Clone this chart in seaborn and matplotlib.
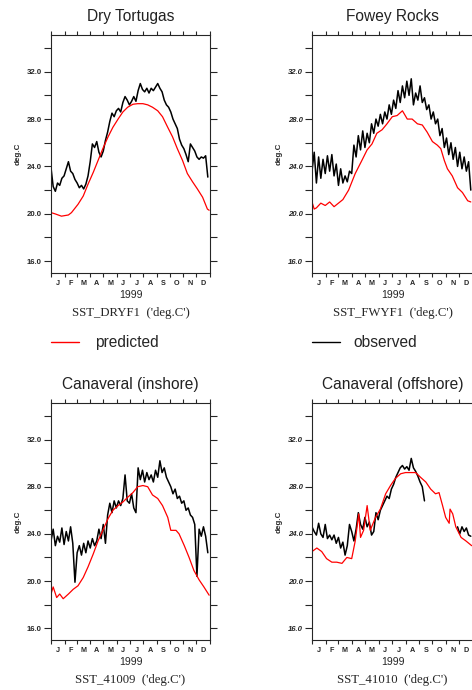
import numpy as np
import pandas as pd
import matplotlib
matplotlib.use("Agg")
import matplotlib.pyplot as plt
from matplotlib.lines import Line2D
import seaborn as sns

# ── Axis labels ────────────────────────────────────────────
MONTHS       = ["J", "F", "M", "A", "M", "J", "J", "A", "S", "O", "N", "D"]
MONTH_STARTS = [0, 31, 59, 90, 120, 151, 181, 212, 243, 273, 304, 334, 365]
Y_MAJOR      = [16, 20, 24, 28, 32]
Y_MINOR      = [18, 22, 26, 30, 34]

# ── Observed SST (day of year, 5-day spacing) ─────────────
OBS_DAYS = list(range(0, 361, 5))

dry_obs = [23.9, 22.3, 21.9, 22.6, 22.4, 23.0, 23.2, 23.8, 24.4, 23.6,
           23.4, 22.9, 22.6, 22.2, 22.4, 22.1, 22.5, 23.2, 24.4, 25.9,
           25.6, 26.1, 25.2, 24.8, 25.3, 26.2, 26.9, 27.8, 28.5, 28.2,
           28.7, 28.9, 28.6, 29.4, 29.9, 29.6, 29.2, 29.5, 29.9, 29.5,
           30.4, 31.0, 30.5, 30.3, 30.6, 30.2, 30.6, 30.4, 30.7, 31.0,
           30.6, 30.3, 29.6, 29.2, 29.0, 28.6, 28.0, 27.6, 27.2, 26.3,
           25.8, 25.5, 25.0, 24.4, 25.9, 25.6, 25.3, 24.8, 24.6, 24.8,
           24.7, 24.9, 23.1]

fwy_obs = [23.6, 25.2, 22.6, 24.8, 23.0, 24.6, 23.4, 24.9, 23.6, 25.0,
           23.2, 24.2, 22.4, 23.8, 22.6, 23.2, 22.7, 23.6, 23.4, 25.8,
           24.8, 26.6, 25.4, 27.0, 25.6, 26.8, 26.0, 27.6, 26.8, 28.0,
           27.4, 28.4, 27.6, 28.6, 28.0, 29.2, 28.4, 29.6, 28.9, 30.4,
           29.4, 30.8, 29.8, 31.2, 30.0, 31.4, 29.2, 30.2, 29.6, 30.8,
           29.4, 29.8, 28.8, 29.2, 28.0, 28.6, 27.6, 28.0, 26.6, 27.2,
           25.6, 26.4, 25.0, 26.0, 24.6, 25.6, 24.0, 25.2, 23.8, 24.8,
           23.6, 24.4, 22.0]

cin_obs = [23.4, 24.4, 23.0, 23.8, 23.3, 24.5, 23.1, 24.2, 23.4, 24.6,
           23.2, 19.9, 22.4, 23.0, 22.2, 23.2, 22.4, 23.4, 22.8, 23.6,
           23.0, 23.4, 24.4, 23.6, 24.8, 23.2, 25.6, 26.6, 25.8, 26.8,
           26.2, 26.8, 26.4, 27.0, 29.0, 26.8, 26.6, 27.4, 26.2, 25.8,
           29.6, 28.6, 29.4, 28.4, 29.2, 28.6, 29.0, 28.4, 29.4, 28.8,
           30.2, 29.2, 29.6, 28.8, 28.4, 28.0, 27.4, 27.8, 27.0, 27.2,
           26.6, 26.8, 26.0, 26.2, 25.6, 25.4, 24.8, 20.4, 24.4, 23.8,
           24.6, 23.8, 22.4]

nan = np.nan
cof_obs = [24.6, 24.2, 23.9, 24.9, 24.0, 23.7, 24.8, 23.6, 23.9, 23.5,
           23.9, 23.2, 23.7, 22.8, 23.3, 22.2, 23.0, 24.8, 24.2, 23.4,
           24.4, 25.8, 24.8, 24.4, 25.4, 24.6, 25.0, 23.9, 24.2, 25.8,
           25.2, 26.0, 26.4, 26.8, 27.2, 27.0, 27.8, 28.2, 28.8, 29.2,
           29.6, 29.8, 29.5, 29.7, 29.4, 30.4, 29.6, 29.3, 28.9, 28.4,
           28.0, 26.8, nan, nan, nan, nan, nan, nan, nan, nan,
           nan, nan, nan, nan, nan, nan, 24.6, 24.0, 24.6, 24.2,
           24.5, 23.9, 23.8]

# ── Predicted SST ──────────────────────────────────────────
dry_pred_days = [0, 9, 24, 40, 47, 62, 74, 85, 97, 108, 119, 131, 142, 154, 165, 176,
                 188, 199, 211, 222, 233, 245, 256, 268, 279, 290, 302, 313, 325, 336,
                 348, 359, 363]
dry_pred = [20.1, 20.0, 19.8, 19.9, 20.1, 20.8, 21.5, 22.5, 23.5, 24.5, 25.5, 26.5,
            27.3, 28.0, 28.6, 29.0, 29.25, 29.3, 29.3, 29.2, 29.0, 28.7, 28.2, 27.3,
            26.5, 25.5, 24.5, 23.4, 22.7, 22.1, 21.4, 20.4, 20.3]

fwy_pred_days = [0, 5, 10, 20, 30, 40, 50, 60, 70, 83, 98, 113, 125, 136, 147, 159,
                 170, 182, 193, 205, 216, 227, 239, 250, 261, 273, 284, 292, 300, 307,
                 318, 330, 341, 353, 360]
fwy_pred = [21.0, 20.4, 20.5, 20.9, 20.7, 21.0, 20.6, 20.9, 21.2, 22.0, 23.4, 24.5,
            25.4, 25.9, 26.8, 27.1, 27.6, 28.2, 28.3, 28.7, 28.0, 28.0, 27.6, 27.5,
            26.9, 26.1, 25.8, 25.5, 24.5, 23.8, 23.2, 22.2, 21.8, 21.1, 21.0]

cin_pred_days = [0, 5, 13, 20, 28, 40, 51, 62, 74, 85, 97, 108, 119, 131, 142, 154,
                 165, 176, 188, 199, 211, 222, 233, 245, 256, 268, 275, 287, 294, 306,
                 317, 328, 340, 351, 363]
cin_pred = [18.9, 19.5, 18.6, 18.9, 18.5, 18.9, 19.3, 19.6, 20.3, 21.2, 22.3, 23.4,
            24.3, 25.3, 26.0, 26.4, 26.7, 27.1, 27.5, 28.0, 28.1, 28.0, 27.3, 27.0,
            26.4, 25.4, 24.3, 24.3, 24.0, 23.0, 22.0, 20.9, 20.1, 19.5, 18.8]

cof_pred_days = [0, 11, 22, 33, 45, 56, 68, 79, 90, 98, 106, 110, 117, 125, 132, 144,
                 155, 167, 178, 189, 201, 212, 224, 235, 246, 258, 269, 280, 288, 296,
                 303, 311, 313, 319, 326, 338, 349, 362]
cof_pred = [22.5, 22.8, 22.5, 21.9, 21.6, 21.6, 21.5, 22.0, 21.9, 23.4, 25.7, 23.7,
            24.3, 26.4, 24.3, 25.4, 26.1, 27.4, 28.1, 28.7, 29.1, 29.2, 29.2, 29.2,
            28.8, 28.4, 27.8, 27.4, 27.5, 26.4, 25.4, 24.9, 26.1, 25.7, 24.6, 23.7,
            23.4, 23.0]

PANELS = [
    ("Dry Tortugas",         "SST_DRYF1  ('deg.C')", dry_obs, dry_pred_days, dry_pred),
    ("Fowey Rocks",          "SST_FWYF1  ('deg.C')", fwy_obs, fwy_pred_days, fwy_pred),
    ("Canaveral (inshore)",  "SST_41009  ('deg.C')", cin_obs, cin_pred_days, cin_pred),
    ("Canaveral (offshore)", "SST_41010  ('deg.C')", cof_obs, cof_pred_days, cof_pred),
]

# axes boxes in figure fraction (left, bottom, width, height)
BOXES = [
    (51 / 472, 1 - 273 / 690, 159 / 472, 238 / 690),
    (312 / 472, 1 - 273 / 690, 161 / 472, 238 / 690),
    (51 / 472, 1 - 640 / 690, 159 / 472, 237 / 690),
    (312 / 472, 1 - 640 / 690, 161 / 472, 237 / 690),
]

sns.set_theme(style="ticks")
plt.rcParams["font.family"] = ["Liberation Sans", "DejaVu Sans"]
plt.rcParams["axes.linewidth"] = 0.8


def to_frame(days, vals):
    df = pd.DataFrame({"day": days, "temp": vals})
    df["seg"] = df["temp"].isna().cumsum()   # break the line at data gaps
    return df.dropna()


def draw_panel(ax, title, station, obs, pred_days, pred, right):
    sns.lineplot(data=to_frame(OBS_DAYS, obs), x="day", y="temp", units="seg",
                 estimator=None, sort=False, color="black", lw=1.1, ax=ax)
    sns.lineplot(data=to_frame(pred_days, pred), x="day", y="temp", units="seg",
                 estimator=None, sort=False, color="#ff0000", lw=0.9, ax=ax)

    ax.set_xlim(0, 365)
    ax.set_ylim(15, 35.1)
    ax.set_xlabel("")
    ax.set_ylabel("")

    mids = [(a + b) / 2 for a, b in zip(MONTH_STARTS[:-1], MONTH_STARTS[1:])]
    ax.set_xticks(MONTH_STARTS)
    ax.set_xticklabels([])
    ax.set_xticks(mids, minor=True)
    ax.set_xticklabels(MONTHS, minor=True, fontsize=5.2, fontweight="bold")
    ax.tick_params(axis="x", which="major", direction="out", length=3, width=0.8,
                   top=True, bottom=True)
    ax.tick_params(axis="x", which="minor", length=0, pad=5.0, top=False)

    ax.set_yticks(Y_MAJOR)
    ax.set_yticklabels([f"{v:.1f}" for v in Y_MAJOR], fontsize=5.6, fontweight="bold",
                       fontstyle="italic" if right else "normal")
    ax.set_yticks(Y_MINOR, minor=True)
    ax.tick_params(axis="y", which="both", direction="out", length=5.2, width=0.8,
                   left=True, right=True, pad=1.5)

    ax.text(0.5, 1.076, title, transform=ax.transAxes, ha="center", va="center",
            fontsize=11.2, color="#222222")
    ax.text(0.5, -0.093, "1999", transform=ax.transAxes, ha="center", va="center",
            fontsize=7.6)
    ax.text(0.5, -0.169, station, transform=ax.transAxes, ha="center", va="center",
            fontsize=9.2, family="Liberation Serif")
    ax.text(-0.207, 0.5, "deg.C", transform=ax.transAxes, ha="center", va="center",
            rotation=90, fontsize=5.8, fontweight="bold")


fig = plt.figure(figsize=(4.72, 6.9), dpi=100, facecolor="white")
for i, ((title, station, obs, pdays, pred), box) in enumerate(zip(PANELS, BOXES)):
    ax = fig.add_axes(box)
    draw_panel(ax, title, station, obs, pdays, pred, right=(i % 2 == 1))

# legend row
fig.legend(handles=[Line2D([], [], color="#ff0000", lw=1)], labels=["predicted"],
           loc="center left", bbox_to_anchor=(51 / 472, 1 - 343 / 690), frameon=False,
           borderpad=0, borderaxespad=0, handlelength=1.8, handletextpad=1.0,
           fontsize=11.2)
fig.legend(handles=[Line2D([], [], color="black", lw=1)], labels=["observed"],
           loc="center left", bbox_to_anchor=(312 / 472, 1 - 343 / 690), frameon=False,
           borderpad=0, borderaxespad=0, handlelength=1.8, handletextpad=0.85,
           fontsize=11.2)

fig.savefig("out.png", dpi=100, facecolor="white")
